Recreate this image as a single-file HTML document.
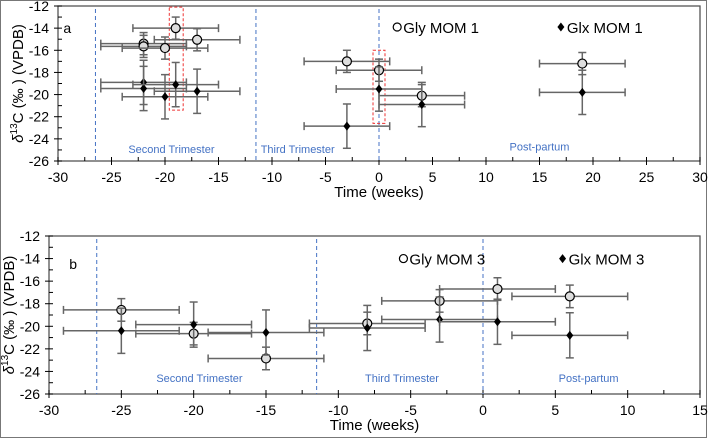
<!DOCTYPE html>
<html><head><meta charset="utf-8"><style>
body{margin:0;background:#fff;font-family:"Liberation Sans",sans-serif}
svg{display:block}
</style></head><body>
<svg id="c" width="708" height="438" xmlns="http://www.w3.org/2000/svg">
<rect x="0.5" y="0.5" width="706" height="437" fill="#fff" stroke="#777"/>
</svg>
<script>
const topGlyX=[-22,-22,-20,-19,-17,-3,0,4,19];
const topGlyY=[-15.4,-15.65,-15.8,-14,-15.05,-17,-17.8,-20.1,-17.2];
const topGlxX=[-22,-22,-20,-19,-17,-3,0,4,19];
const topGlxY=[-18.9,-19.45,-20.2,-19.1,-19.7,-22.85,-19.5,-20.9,-19.8];
const botGlyX=[-25,-20,-15,-8,-3,1,6];
const botGlyY=[-18.55,-20.65,-22.85,-19.75,-17.75,-16.7,-17.35];
const botGlxX=[-25,-20,-15,-8,-3,1,6];
const botGlxY=[-20.4,-19.85,-20.55,-20.15,-19.4,-19.6,-20.8];
const xErr=4, glyYErr=1, glxYErr=2;
const topXTicks=[-30,-25,-20,-15,-10,-5,0,5,10,15,20,25,30];
const botXTicks=[-30,-25,-20,-15,-10,-5,0,5,10,15];
const yTicks=[-12,-14,-16,-18,-20,-22,-24,-26];
const topPhases=[-26.5,-11.5,0];
const botPhases=[-26.7,-11.5,0];

const svg=document.getElementById('c');
const NS='http://www.w3.org/2000/svg';
function mk(tag,attrs,parent){const e=document.createElementNS(NS,tag);for(const k in attrs)e.setAttribute(k,attrs[k]);(parent||svg).appendChild(e);return e;}

function panel(cfg){
  const g=mk('g',{});
  
  
  const X=v=>cfg.x0+(v-cfg.xmin)/(cfg.xmax-cfg.xmin)*(cfg.x1-cfg.x0);
  const Y=v=>cfg.y0+(-12-v)/14*(cfg.y1-cfg.y0);
  const fr=mk('rect',{x:cfg.x0,y:cfg.y0,width:cfg.x1-cfg.x0,height:cfg.y1-cfg.y0,fill:'none',stroke:'#555','stroke-width':1.3},g);
  
  
  for(let v=-12;v>=-26;v--){const y=Y(v);mk('line',{x1:cfg.x0,x2:cfg.x0+(v%2===0?0:4),y1:y,y2:y,stroke:'#000'},g);
    if(v%2===0){mk('line',{x1:cfg.x0-4,x2:cfg.x0+4,y1:y,y2:y,stroke:'#000'},g);}}
  yTicks.forEach(v=>{const t=mk('text',{x:cfg.x0-9,y:Y(v)+5,'text-anchor':'end','font-size':14,fill:'#000'},g);t.textContent=v;
    
    });
  cfg.xt.forEach((v,i)=>{const x=X(v);mk('line',{x1:x,x2:x,y1:cfg.y1-4,y2:cfg.y1+4,stroke:'#000'},g);
    if(i<cfg.xt.length-1){const xm=X(v+2.5);mk('line',{x1:xm,x2:xm,y1:cfg.y1-4,y2:cfg.y1,stroke:'#000'},g);}
    const t=mk('text',{x:x,y:cfg.y1+21,'text-anchor':'middle','font-size':14,fill:'#000'},g);t.textContent=v;
    
    });
  const xt=mk('text',{x:(cfg.x0+cfg.x1)/2,y:cfg.y1+36,'text-anchor':'middle','font-size':15,fill:'#000'},g);xt.textContent='Time (weeks)';
  
  
  const yc=(cfg.y0+cfg.y1)/2;
  const yt=mk('text',{x:0,y:0,'text-anchor':'middle','font-size':15,fill:'#000',transform:`translate(${cfg.x0-35},${yc}) rotate(-90)`},g);
  yt.innerHTML='<tspan font-style="italic">δ</tspan><tspan font-size="10" dy="-6">13</tspan><tspan dy="6">C (‰ ) (VPDB)</tspan>';
  
  
  cfg.phases.forEach(v=>{const l=mk('line',{x1:X(v),x2:X(v),y1:cfg.y0+3,y2:cfg.y1,stroke:'#4472c4','stroke-dasharray':'4,3','stroke-width':1},g);
    
    });
  cfg.labels.forEach(L=>{const t=mk('text',{x:X(L[1]),y:Y(L[2])+4,'text-anchor':'middle','font-size':11,fill:'#4472c4'},g);t.textContent=L[0];
    
    });
  const pl=mk('text',{x:X(cfg.letter[1]),y:Y(cfg.letter[2])+5,'font-size':14,fill:'#000'},g);pl.textContent=cfg.letter[0];
  
  
  (cfg.boxes||[]).forEach(b=>{const r=mk('rect',{x:X(b[0]),y:Y(b[3]),width:X(b[1])-X(b[0]),height:Y(b[2])-Y(b[3]),fill:'none',stroke:'#e33','stroke-dasharray':'3,2'},g);
    
    });
  function series(xs,ys,ye,kind){
    xs.forEach((xv,i)=>{const x=X(xv),y=Y(ys[i]);
      const eg=mk('g',{stroke:'#666','stroke-width':1.5},g);
      
      
      mk('line',{x1:X(xv-xErr),x2:X(xv+xErr),y1:y,y2:y},eg);
      mk('line',{x1:X(xv-xErr),x2:X(xv-xErr),y1:y-4,y2:y+4},eg);
      mk('line',{x1:X(xv+xErr),x2:X(xv+xErr),y1:y-4,y2:y+4},eg);
      mk('line',{x1:x,x2:x,y1:Y(ys[i]+ye),y2:Y(ys[i]-ye)},eg);
      mk('line',{x1:x-4,x2:x+4,y1:Y(ys[i]+ye),y2:Y(ys[i]+ye)},eg);
      mk('line',{x1:x-4,x2:x+4,y1:Y(ys[i]-ye),y2:Y(ys[i]-ye)},eg);
      let m;
      if(kind==='o'){m=mk('circle',{cx:x,cy:y,r:4.5,fill:'#ddd',stroke:'#000','stroke-width':1.2},g);}
      else{m=mk('path',{d:`M${x},${y-4.5}L${x+3.5},${y}L${x},${y+4.5}L${x-3.5},${y}Z`,fill:'#000'},g);}
      
      
    });
  }
  series(cfg.glyX,cfg.glyY,glyYErr,'o');
  series(cfg.glxX,cfg.glxY,glxYErr,'d');
  const lg=mk('g',{},g);
  
  
  const lx1=X(cfg.leg[0]),lx2=X(cfg.leg[1]),ly=Y(cfg.leg[2]);
  mk('circle',{cx:lx1,cy:ly,r:4,fill:'#fff',stroke:'#000','stroke-width':1.2},lg);
  const t1=mk('text',{x:lx1+6,y:ly+6,'font-size':15,fill:'#000'},lg);t1.textContent=cfg.legText[0];
  
  
  mk('path',{d:`M${lx2},${ly-4.5}L${lx2+3.5},${ly}L${lx2},${ly+4.5}L${lx2-3.5},${ly}Z`,fill:'#000'},lg);
  const t2=mk('text',{x:lx2+6,y:ly+6,'font-size':15,fill:'#000'},lg);t2.textContent=cfg.legText[1];
  
  
}
panel({name:'panel-a',x0:58,x1:700,y0:6,y1:161,xmin:-30,xmax:30,xt:topXTicks,phases:topPhases,
  labels:[['Second Trimester',-19.4,-24.9],['Third Trimester',-7.6,-24.9],['Post-partum',15,-24.7]],
  letter:['a',-29.5,-14],boxes:[[-19.6,-18.3,-21.4,-12.1],[-0.56,0.56,-22.6,-16]],
  glyX:topGlyX,glyY:topGlyY,glxX:topGlxX,glxY:topGlxY,leg:[1.7,17,-13.9],legText:['Gly MOM 1','Glx MOM 1']});
panel({name:'panel-b',x0:49,x1:700,y0:236,y1:394,xmin:-30,xmax:15,xt:botXTicks,phases:botPhases,
  labels:[['Second Trimester',-19.6,-24.6],['Third Trimester',-5.6,-24.6],['Post-partum',7.3,-24.6]],
  letter:['b',-28.6,-14.5],
  glyX:botGlyX,glyY:botGlyY,glxX:botGlxX,glxY:botGlxY,leg:[-5.5,5.5,-14],legText:['Gly MOM 3','Glx MOM 3']});
</script>
</body></html>
